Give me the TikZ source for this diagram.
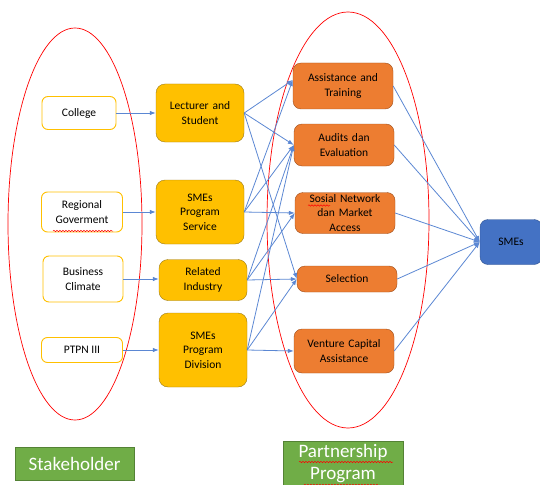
\documentclass[tikz,border=0pt]{standalone}
\usepackage{fontspec}
\setmainfont{Carlito}
\usetikzlibrary{arrows.meta,decorations.pathmorphing}
\definecolor{gold}{HTML}{FFC000}
\definecolor{golddark}{HTML}{9C7A14}
\definecolor{orng}{HTML}{ED7D31}
\definecolor{orngdark}{HTML}{9E4F1C}
\definecolor{smeblue}{HTML}{4472C4}
\definecolor{smedark}{HTML}{2F528F}
\definecolor{linkblue}{HTML}{5B87D3}
\definecolor{grn}{HTML}{70AD47}
\definecolor{grndark}{HTML}{548235}
\tikzset{
  ->/.style={draw=linkblue,line width=0.8pt,-{Latex[length=6pt,width=4.5pt]}},
  holder/.style={draw=gold,line width=0.9pt,fill=white,rounded corners=6pt,align=center},
  actor/.style={draw=golddark,fill=gold,rounded corners=9pt,align=center,text width=88pt,inner sep=0pt},
  program/.style={draw=orngdark,fill=orng,rounded corners=8pt,align=center,text width=100pt,inner sep=0pt},
  title/.style={draw=grndark,fill=grn,text=white,font=\fontsize{19}{22}\selectfont,align=center,inner sep=0pt},
  squiggle/.style={draw=red,line width=0.5pt,decorate,decoration={snake,amplitude=0.7pt,segment length=3pt}}
}
\tikzstyle{every node}=[font=\fontsize{11.5}{14.5}\selectfont]

\begin{document}
\begin{tikzpicture}[x=1pt,y=-1pt]
    \useasboundingbox (0,0) rectangle (540,484);
    \draw[red,line width=0.7pt] (75,224) ellipse [x radius=67, y radius=196];
    \draw[red,line width=0.7pt] (348,220) ellipse [x radius=81, y radius=208];
    \node[holder,minimum width=74pt,minimum height=33pt] (college) at (79,113) {College};
    \node[holder,minimum width=81pt,minimum height=40pt] (region) at (82,212) {Regional\\Goverment};
    \node[holder,minimum width=80pt,minimum height=46pt] (climate) at (83,279) {Business\\Climate};
    \node[holder,minimum width=81pt,minimum height=25pt] (ptpn) at (82,350) {PTPN III};
    \node[actor,minimum height=58pt] (lecturer) at (200,113) {Lecturer and\\Student};
    \node[actor,minimum height=64pt] (service) at (200,212) {SMEs\\Program\\Service};
    \node[actor,minimum height=41pt] (industry) at (203,280) {Related\\Industry};
    \node[actor,minimum height=74pt] (division) at (203,350) {SMEs\\Program\\Division};
    \node[program,minimum height=46pt] (training) at (343,86) {Assistance and\\Training};
    \node[program,minimum height=42pt] (audit) at (344,145) {Audits dan\\Evaluation};
    \node[program,minimum height=41pt] (network) at (345,213) {Sosial Network\\dan Market\\Access};
    \node[program,minimum height=26pt] (selection) at (347,279) {Selection};
    \node[program,minimum height=44pt] (venture) at (344,351) {Venture Capital\\Assistance};
    \node[draw=smedark,fill=smeblue,rounded corners=8pt,minimum width=62pt,minimum height=45pt,inner sep=0pt] (smes) at (511,242) {SMEs};
    \node[title,minimum width=119pt,minimum height=33pt] (stake) at (74.5,463.5) {Stakeholder};
    \node[title,minimum width=120pt,minimum height=50pt,font=\fontsize{19}{22}\selectfont] (partner) at (343,466) {Partnership\\Program\vspace{4pt}};
    \draw[squiggle] (53,231) -- (113,231);
    \draw[squiggle] (308,205.5) -- (330,205.5);
    \draw[squiggle] (299,462) -- (393,462);
    \draw[squiggle] (304,485) -- (380,485);
    \draw[->] (college.east) -- (college.east -| lecturer.west);
    \draw[->] (region.east) -- (region.east -| service.west);
    \draw[->] (climate.east) -- (climate.east -| industry.west);
    \draw[->] (ptpn.east) -- (ptpn.east -| division.west);
    \draw[->] (lecturer.east) -- ([yshift=6pt]training.west);
    \draw[->] (lecturer.east) -- (audit.west);
    \draw[->] (lecturer.east) -- (selection.west);
    \draw[->] (service.east) -- ([yshift=6pt]training.west);
    \draw[->] (service.east) -- (audit.west);
    \draw[->] (service.east) -- (network.west);
    \draw[->] (industry.east) -- (audit.west);
    \draw[->] (industry.east) -- (network.west);
    \draw[->] (industry.east) -- (selection.west);
    \draw[->] (division.east) -- (audit.west);
    \draw[->] (division.east) -- (selection.west);
    \draw[->] (division.east) -- (venture.west);
    \draw[->] (training.east) -- (smes.west);
    \draw[->] (audit.east) -- (smes.west);
    \draw[->] (network.east) -- (smes.west);
    \draw[->] (selection.east) -- (smes.west);
    \draw[->] (venture.east) -- (smes.west);
\end{tikzpicture}
\end{document}
